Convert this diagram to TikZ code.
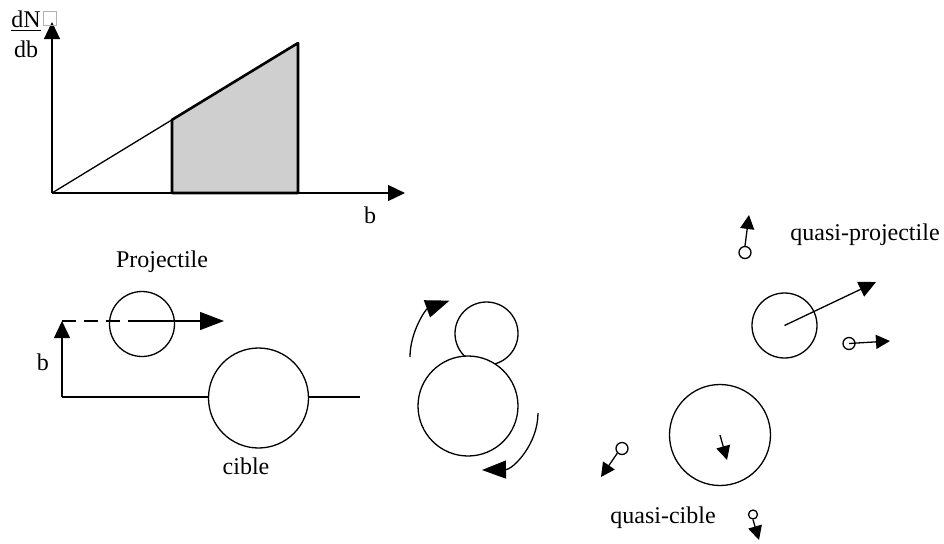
\documentclass[tikz,border=0pt]{standalone}
\usepackage{fontspec}
\setmainfont{Liberation Serif}
\usetikzlibrary{positioning,arrows.meta}

\begin{document}
\begin{tikzpicture}[x=0.5pt, y=-0.5pt, line width=0.65pt, font=\fontsize{12}{14}\selectfont,
		bigtip/.style={-{Triangle[length=12pt, width=9pt]}},
		midtip/.style={-{Triangle[length=8.5pt, width=8pt]}},
		smalltip/.style={-{Triangle[length=7pt, width=7pt]}},
		ball/.style={circle, draw, inner sep=0pt},
		grain/.style={circle, draw, fill=white, inner sep=0pt, minimum size=6pt}]

		\useasboundingbox (0,0) rectangle (944,543);

		% --- Verteilung dN/db ---
		\coordinate (o) at (52,193);
		\coordinate (ymax) at (52,22);
		\coordinate (xmax) at (405,193);
		\coordinate (bmin) at (172,193);
		\coordinate (bmax) at (298,193);
		\coordinate (cmin) at (172,119.8);
		\coordinate (cmax) at (298,43);

		\fill[gray!38] (bmin) -- (cmin) -- (cmax) -- (bmax) -- cycle;
		\draw[line width=1.3pt, line join=round] (bmin) -- (cmin) -- (cmax) -- (bmax) -- cycle;
		\draw (o) -- (cmin);
		\draw[midtip] (o) -- (ymax);
		\draw[midtip] (o) -- (xmax);

		\node[align=center, inner sep=0pt] (dndb) at (26,34) {\underline{dN}\\[1pt]db};
		\node[draw=gray!60, line width=0.4pt, inner sep=0pt, minimum width=6.5pt, minimum height=7pt] (glyph) at (49.5,18) {};
		\node (bchart) at (370,215) {b};

		% --- Stoss: Projektil und Target ---
		\node[ball, minimum size=32.5pt] (proj) at (142,324) {};
		\node (projlabel) at (162,262) {Projectile};
		\coordinate (bfoot) at (62,397);
		\coordinate (btop) at (62,321);
		\coordinate (pdir) at (224,321);
		\coordinate (beam) at (360,397);

		\draw (bfoot) -- (beam);
		\draw[midtip] (bfoot) -- (btop);
		\draw[dashed, dash pattern=on 7pt off 4pt] (btop) -- (proj.center |- btop);
		\draw[bigtip] (proj.center |- btop) -- (pdir);
		\node (blabel) at (43,362) {b};

		\node[ball, fill=white, minimum size=50pt] (target) at (258.5,398) {};
		\node (targetlabel) at (246,466) {cible};

		% --- Rotierendes System ---
		\node[ball, minimum size=31.5pt] (rotp) at (486.5,333.5) {};
		\node[ball, fill=white, minimum size=50pt] (rott) at (468,406) {};
		\coordinate (rotin) at (410,357);
		\coordinate (rotout) at (538,413);
		\draw[bigtip] (rotin) arc (180:250:60);
		\draw[bigtip] (rotout) arc (0:89:57);

		% --- Austrittskanal ---
		\node[ball, minimum size=32.5pt] (qp) at (784.5,325.5) {};
		\coordinate (qpdir) at (876,282);
		\draw[midtip] (qp.center) -- (qpdir);
		\node (qplabel) at (865,235) {quasi-projectile};

		\node[ball, minimum size=50.5pt] (qc) at (720,435) {};
		\coordinate (qcdir) at (727,460);
		\draw[smalltip] (qc.center) -- (qcdir);
		\node (qclabel) at (663,518) {quasi-cible};

		% leichte Teilchen
		\node[grain] (g1) at (745,252.5) {};
		\node[grain] (g2) at (849,343.5) {};
		\node[grain] (g3) at (622,448.5) {};
		\node[grain, minimum size=4.5pt] (g4) at (753,514.5) {};
		\coordinate (g1dir) at (749,215);
		\coordinate (g2dir) at (890,341);
		\coordinate (g3dir) at (601,477);
		\coordinate (g4dir) at (759,540);
		\draw[smalltip] (g1.north) -- (g1dir);
		\draw[smalltip] (g2.center) -- (g2dir);
		\draw[smalltip] (g3.south west) -- (g3dir);
		\draw[smalltip] (g4.south) -- (g4dir);

	\end{tikzpicture}
\end{document}
